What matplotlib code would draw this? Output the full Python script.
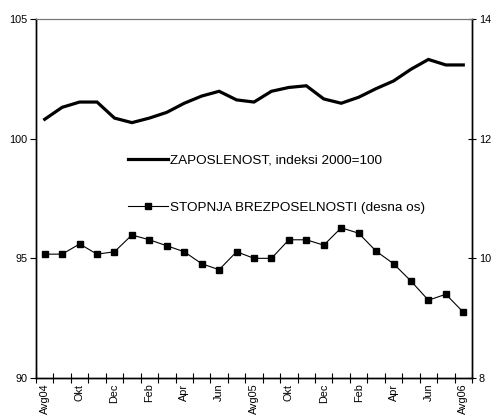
import matplotlib
matplotlib.use("Agg")
import matplotlib.pyplot as plt

plt.rcParams['font.family'] = ['Liberation Sans', 'DejaVu Sans']

months = ["Avg04", "Sep", "Okt", "Nov", "Dec", "Jan", "Feb", "Mar", "Apr", "Maj", "Jun", "Jul",
          "Avg05", "Sep", "Okt", "Nov", "Dec", "Jan", "Feb", "Mar", "Apr", "Maj", "Jun", "Jul",
          "Avg06"]
zaposlenost = [100.81, 101.31, 101.53, 101.53, 100.86, 100.67, 100.86, 101.10, 101.48, 101.78,
               101.98, 101.62, 101.53, 101.98, 102.14, 102.21, 101.66, 101.48, 101.73, 102.09,
               102.41, 102.90, 103.31, 103.08, 103.08]
brezposelnost = [10.07, 10.07, 10.24, 10.07, 10.11, 10.39, 10.31, 10.21, 10.11, 9.91,
                 9.81, 10.11, 10.00, 10.00, 10.31, 10.31, 10.22, 10.51, 10.42, 10.12,
                 9.91, 9.62, 9.30, 9.40, 9.10]
label_zap = "ZAPOSLENOST, indeksi 2000=100"
label_brez = "STOPNJA BREZPOSELNOSTI (desna os)"

fig = plt.figure(figsize=(4.91, 4.16), dpi=100)
ax = fig.add_axes([36/491, 38/416, 436/491, 359/416])
ax2 = ax.twinx()

x = list(range(len(months)))
l1, = ax.plot(x, zaposlenost, color='black', lw=2.3, solid_joinstyle='miter')
l2, = ax2.plot(x, brezposelnost, color='black', lw=0.8, marker='s', markersize=4.8)

ax.set_xlim(-0.5, len(months) - 0.5)
ax.set_ylim(90, 105)
ax.set_yticks([90, 95, 100, 105])
ax2.set_ylim(8, 14)
ax2.set_yticks([8, 10, 12, 14])

ax.set_xticks([i - 0.5 for i in range(len(months) + 1)])
ax.set_xticklabels([])
ax.set_xticks(x[::2], minor=True)
ax.set_xticklabels(months[::2], minor=True, rotation=90, fontsize=7.8)
ax.tick_params(axis='x', which='major', direction='inout', length=7, width=0.8)
ax.tick_params(axis='x', which='minor', length=0, pad=4)
ax.tick_params(axis='y', direction='out', length=4, width=0.8, labelsize=7.8, pad=2)
ax2.tick_params(axis='y', direction='inout', length=6, width=0.8, labelsize=7.8, pad=2)

for a in (ax, ax2):
    a.spines['top'].set_color('#777777')
    a.spines['top'].set_linewidth(0.8)
    a.spines['left'].set_linewidth(1.0)
    a.spines['right'].set_linewidth(1.0)
    a.spines['bottom'].set_linewidth(1.0)

leg = ax2.legend([l1, l2], [label_zap, label_brez], loc='upper left',
                 bbox_to_anchor=(128/491, 1 - 154/416), bbox_transform=fig.transFigure,
                 frameon=False, fontsize=9.7, handlelength=3.0, handletextpad=0.15,
                 labelspacing=2.6, borderpad=0, borderaxespad=0)

fig.savefig("out.png", dpi=100)
